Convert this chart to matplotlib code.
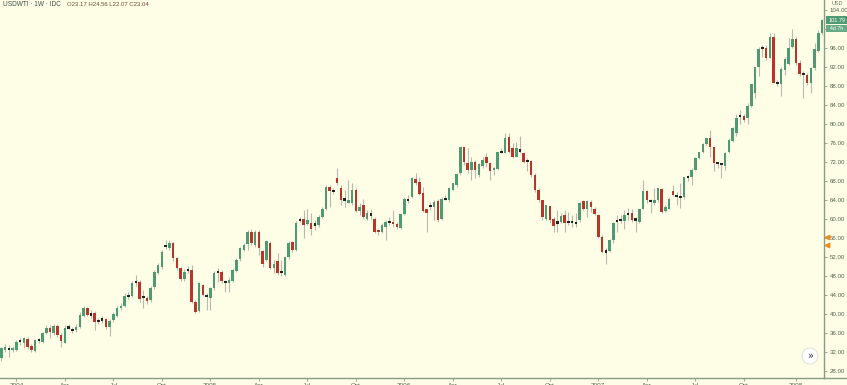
import numpy as np
import pandas as pd
import matplotlib
matplotlib.use("Agg")
import matplotlib.pyplot as plt
from matplotlib.lines import Line2D
from matplotlib.patches import Circle, Rectangle

# weekly USDWTI candles, Dec 2003 .. Feb 2008
start_date = "2003-12-08"

opens = [30.7, 32.4, 32.8, 32.4, 32.4, 34.2, 33.8, 34.7, 33.3, 32.3,
         34.5, 34.2, 36.1, 37.0, 35.9, 37.5, 35.6, 34.0, 37.1, 36.8,
         36.6, 37.3, 39.6, 41.2, 39.9, 40.3, 38.6, 38.8, 38.9, 37.3,
         38.7, 39.6, 41.2, 41.7, 43.8, 43.8, 46.6, 46.8, 43.6, 43.3,
         42.9, 45.6, 48.7, 49.8, 54.2, 53.8, 55.0, 51.7, 49.6, 47.3,
         49.2, 49.3, 42.6, 40.6, 46.1, 43.8, 43.3, 45.4, 48.7, 48.9,
         46.7, 46.5, 47.0, 49.1, 51.5, 53.5, 54.7, 57.3, 54.5, 57.3,
         53.3, 51.4, 55.0, 49.6, 51.2, 48.8, 48.2, 51.9, 55.1, 53.5,
         59.6, 59.9, 58.9, 59.2, 58.8, 58.7, 60.5, 62.2, 66.8, 65.9,
         68.6, 66.6, 64.0, 63.4, 63.3, 66.2, 61.7, 62.9, 60.0, 61.0,
         60.1, 57.7, 57.3, 58.4, 59.3, 59.4, 58.9, 58.2, 61.0, 64.1,
         64.7, 68.4, 67.7, 65.5, 62.2, 62.6, 62.5, 63.8, 59.9, 64.2,
         64.0, 66.2, 67.2, 69.6, 75.1, 71.7, 70.3, 72.1, 69.3, 71.2,
         73.0, 71.7, 70.3, 70.6, 74.0, 73.8, 77.3, 74.9, 73.1, 74.4,
         73.8, 72.2, 72.3, 69.3, 66.1, 64.0, 60.1, 62.7, 59.9, 59.3,
         59.4, 60.8, 59.5, 59.3, 59.3, 59.8, 63.8, 62.2, 63.6, 62.2,
         60.8, 56.3, 53.2, 53.3, 55.6, 59.4, 59.7, 59.6, 61.1, 61.2,
         59.9, 59.4, 62.2, 65.8, 63.9, 63.3, 64.0, 66.4, 61.7, 62.2,
         65.9, 64.8, 64.7, 64.6, 68.7, 68.8, 70.4, 72.8, 74.0, 75.8,
         77.0, 75.1, 71.8, 71.5, 71.2, 74.0, 76.5, 78.0, 81.5, 81.7,
         81.2, 83.8, 86.6, 91.9, 96.1, 95.9, 93.8, 98.4, 88.7, 88.4,
         91.4, 92.6, 96.3, 97.8, 92.9, 90.5, 90.3, 88.7, 91.7, 95.4,
         99.1]

highs = [33.0, 33.7, 33.5, 33.2, 34.6, 35.0, 35.1, 35.1, 33.6, 34.8,
         35.0, 36.3, 37.6, 37.7, 38.0, 37.9, 35.9, 37.6, 37.9, 37.3,
         37.8, 40.5, 41.6, 41.5, 40.8, 40.7, 39.2, 39.6, 39.1, 39.0,
         40.4, 41.6, 42.3, 44.5, 44.6, 47.0, 48.3, 47.1, 45.1, 43.8,
         45.9, 49.3, 50.8, 53.5, 55.6, 55.6, 55.2, 52.0, 49.9, 49.4,
         50.2, 50.3, 43.0, 46.8, 46.4, 44.4, 45.7, 49.0, 49.6, 49.3,
         47.2, 47.8, 49.6, 51.8, 54.2, 55.0, 57.7, 57.8, 57.7, 57.6,
         53.5, 55.6, 55.3, 51.4, 52.9, 51.4, 52.1, 55.3, 55.3, 59.5,
         60.5, 61.9, 62.2, 61.2, 59.8, 60.8, 62.5, 67.2, 67.2, 66.5,
         70.8, 67.1, 66.1, 68.3, 67.5, 66.5, 63.3, 64.3, 61.9, 62.2,
         60.5, 58.0, 59.1, 59.7, 60.5, 61.9, 59.4, 61.1, 64.7, 65.0,
         68.9, 69.6, 68.9, 66.8, 62.2, 63.6, 64.0, 64.3, 64.7, 65.0,
         66.8, 67.6, 69.6, 75.2, 75.2, 74.9, 73.1, 72.4, 71.7, 73.1,
         73.8, 72.1, 71.0, 74.2, 74.9, 78.0, 78.0, 75.9, 76.3, 77.5,
         74.2, 72.8, 72.4, 69.6, 66.5, 64.0, 62.9, 62.7, 60.5, 61.9,
         61.2, 61.9, 61.5, 60.8, 61.2, 63.6, 64.0, 64.1, 64.1, 62.6,
         61.0, 56.6, 53.8, 55.7, 59.4, 60.8, 60.8, 61.9, 62.4, 62.2,
         60.5, 62.2, 68.2, 66.1, 64.3, 66.5, 66.5, 66.5, 62.9, 64.7,
         67.1, 65.7, 67.5, 68.9, 69.3, 70.7, 73.0, 74.2, 75.9, 77.0,
         78.7, 75.2, 72.1, 71.7, 74.2, 77.0, 79.4, 82.2, 82.9, 82.2,
         84.4, 88.4, 91.9, 96.3, 96.6, 96.6, 99.1, 99.1, 89.3, 92.1,
         94.2, 98.0, 100.1, 98.4, 93.5, 91.2, 90.7, 92.1, 97.0, 99.8,
         102.2]

lows = [30.2, 32.0, 31.0, 32.1, 32.2, 33.4, 32.8, 32.7, 32.1, 32.0,
        34.0, 33.8, 35.8, 34.9, 35.6, 35.2, 33.1, 33.8, 36.8, 35.9,
        36.2, 37.0, 39.3, 39.5, 39.2, 36.6, 37.8, 38.2, 36.9, 35.4,
        38.4, 39.3, 40.9, 41.4, 43.1, 43.5, 46.0, 42.6, 41.2, 42.2,
        42.6, 45.3, 48.4, 49.5, 53.6, 53.4, 51.2, 49.2, 46.9, 46.9,
        48.6, 42.4, 40.3, 40.5, 43.8, 40.8, 40.8, 45.1, 46.8, 46.6,
        44.7, 44.7, 46.7, 48.8, 51.2, 53.2, 53.5, 54.5, 54.2, 52.4,
        49.9, 51.1, 49.4, 48.6, 48.2, 47.9, 48.0, 51.6, 53.0, 53.2,
        59.4, 55.9, 58.7, 56.6, 57.7, 58.4, 60.2, 61.9, 62.6, 65.3,
        67.2, 62.9, 62.6, 63.3, 62.9, 61.5, 60.8, 60.1, 59.8, 60.1,
        57.0, 56.6, 57.0, 55.6, 58.7, 58.4, 58.0, 58.0, 60.8, 63.3,
        64.4, 67.1, 65.0, 61.5, 57.3, 61.9, 59.8, 59.4, 59.8, 64.0,
        63.6, 66.0, 66.8, 69.3, 71.4, 69.6, 68.2, 68.6, 68.9, 70.7,
        71.0, 68.2, 69.3, 70.3, 73.8, 73.8, 73.8, 72.8, 73.0, 73.8,
        71.7, 70.0, 68.9, 65.7, 63.6, 59.8, 59.8, 59.1, 57.3, 57.3,
        59.1, 57.3, 58.7, 58.4, 58.4, 59.4, 61.9, 60.5, 61.5, 60.8,
        55.9, 52.8, 50.5, 53.1, 54.9, 57.3, 59.1, 58.0, 59.8, 59.4,
        57.3, 59.1, 62.2, 63.3, 61.3, 62.9, 63.6, 61.3, 61.5, 62.0,
        64.8, 62.9, 62.4, 64.3, 68.1, 67.1, 70.3, 72.6, 73.8, 75.6,
        73.1, 70.0, 70.7, 68.6, 70.3, 73.8, 76.3, 77.5, 80.1, 80.5,
        80.1, 83.6, 85.4, 90.0, 94.2, 93.5, 93.8, 88.6, 88.0, 85.9,
        90.3, 92.4, 96.1, 92.4, 90.0, 85.4, 88.2, 86.5, 91.4, 95.2,
        98.7]

closes = [32.8, 33.1, 32.6, 32.8, 34.2, 34.3, 34.9, 33.0, 32.4, 34.5,
          34.6, 35.9, 37.1, 36.3, 37.5, 35.6, 34.3, 37.1, 37.2, 36.6,
          37.3, 39.8, 41.3, 39.8, 39.9, 38.4, 38.5, 38.9, 37.3, 38.6,
          40.0, 41.2, 41.7, 43.8, 43.8, 46.5, 46.7, 43.2, 43.7, 42.7,
          45.5, 48.9, 50.3, 53.1, 54.5, 55.0, 51.7, 49.6, 47.3, 48.9,
          49.3, 42.6, 40.5, 46.5, 44.1, 43.6, 45.4, 48.6, 48.8, 47.0,
          46.6, 47.2, 49.3, 51.4, 53.8, 54.5, 57.3, 54.9, 57.3, 53.8,
          50.5, 55.4, 49.6, 50.5, 48.6, 48.7, 51.9, 54.9, 53.5, 59.1,
          59.8, 58.7, 59.8, 58.0, 58.9, 60.5, 62.2, 66.8, 65.9, 66.0,
          67.5, 64.0, 64.2, 64.1, 66.2, 61.7, 62.6, 60.5, 61.2, 60.9,
          57.3, 57.2, 58.7, 59.4, 59.3, 58.9, 58.4, 61.0, 64.2, 64.0,
          68.6, 67.5, 65.3, 61.7, 61.2, 62.8, 63.6, 59.8, 64.3, 64.2,
          66.6, 67.5, 69.4, 75.2, 71.9, 70.3, 72.1, 70.3, 71.5, 72.4,
          71.7, 70.0, 70.8, 74.0, 74.1, 77.1, 74.2, 73.1, 74.9, 74.4,
          72.1, 72.2, 69.3, 66.1, 64.0, 60.5, 62.9, 59.8, 58.5, 59.2,
          60.6, 59.1, 59.4, 59.3, 59.1, 63.3, 62.0, 63.8, 62.5, 61.0,
          56.3, 53.0, 53.1, 55.6, 59.1, 59.6, 59.8, 60.8, 61.0, 59.8,
          59.9, 62.2, 65.8, 64.0, 63.8, 64.1, 66.5, 61.5, 62.5, 64.3,
          65.0, 64.8, 64.7, 68.8, 68.8, 70.4, 72.8, 74.0, 75.7, 77.0,
          75.2, 71.7, 71.7, 71.5, 73.8, 76.6, 79.1, 81.2, 81.7, 80.8,
          83.8, 88.4, 91.9, 95.7, 96.0, 93.8, 98.4, 88.6, 88.7, 91.5,
          93.6, 96.1, 97.8, 92.8, 90.5, 90.4, 88.7, 91.7, 95.7, 99.1,
          101.79]

price_ticks = list(range(28, 105, 4))
header_name = "USDWTI · 1W · IDC"
header_ohlc = "O23.17 H24.56 L22.07 C23.04"
countdown = "4d 7h"

bg = "#fefee6"
up_col = "#4f9a72"
down_col = "#b7352a"
wick_col = "#b9b9b1"
axis_col = "#8c9c82"
text_col = "#55654f"
small_font = "Liberation Sans"

o = np.array(opens)
h = np.array(highs)
l = np.array(lows)
c = np.array(closes)
idx = np.arange(len(c))
dates = pd.date_range(start_date, periods=len(c), freq="W-MON")

W, H = 847, 385
fig = plt.figure(figsize=(W / 100, H / 100), dpi=100)
fig.patch.set_facecolor(bg)
ax = fig.add_axes([0, 7 / H, 824 / W, 378 / H])
ax.set_facecolor(bg)

# wicks
ax.vlines(idx, l, h, color=wick_col, linewidth=0.8, zorder=1)

# bodies
body_lo = np.minimum(o, c)
body_h = np.abs(c - o)
small = body_h < 0.35
colors = np.where(c >= o, up_col, down_col)
ax.bar(idx[~small], body_h[~small], bottom=body_lo[~small], width=0.68,
       color=colors[~small], linewidth=0, zorder=2)
ax.bar(idx[small], 0.45, bottom=(o[small] + c[small]) / 2 - 0.22, width=0.68,
       color="#222222", linewidth=0, zorder=2)

ax.set_xlim(-0.4, 220.5)
ax.set_ylim(26.53, 106.1)

# axes styling
for s in ["top", "left"]:
    ax.spines[s].set_visible(False)
for s in ["right", "bottom"]:
    ax.spines[s].set_color(axis_col)
    ax.spines[s].set_linewidth(1.0)

# price labels hidden under the last-price tag
ax.yaxis.tick_right()
ax.set_yticks(price_ticks)
ax.set_yticklabels(["" if abs(v - c[-1]) < 2 else f"{v:.2f}" for v in price_ticks],
                   family=small_font)
ax.tick_params(axis="y", length=2.5, width=0.6, color=axis_col, labelsize=4.4,
               labelcolor=text_col, pad=1.5)

# quarter ticks at first bar of Jan/Apr/Jul/Oct
qpos, qlab = [], []
for i in range(1, len(dates)):
    m = dates[i].month
    if m in (1, 4, 7, 10) and dates[i - 1].month != m:
        qpos.append(i)
        qlab.append(str(dates[i].year) if m == 1 else dates[i].strftime("%b"))
ax.set_xticks(qpos)
ax.set_xticklabels(qlab, family=small_font)
ax.tick_params(axis="x", length=2, width=0.6, color=axis_col, labelsize=4.6,
               labelcolor=text_col, pad=1.8)

# bottom line continuing under price scale
fig.add_artist(Line2D([824 / W, 1], [7 / H, 7 / H], color=axis_col, linewidth=1.0))

# header
fig.text(3 / W, 1 - 5 / H, header_name, fontsize=4.7, color="#3f4f45",
         va="center", family=small_font)
fig.text(67 / W, 1 - 5 / H, header_ohlc, fontsize=4.3, color="#6e4a35",
         va="center", family=small_font)

# overlay in pixel coords for price-scale labels and small ui bits
ov = fig.add_axes([0, 0, 1, 1], facecolor="none")
ov.set_xlim(0, W)
ov.set_ylim(H, 0)
ov.axis("off")

ov.text(837, 3.5, "USD", fontsize=4.0, color="#6a7a66", va="center", ha="center",
        family=small_font)

last_y = H - ax.transData.transform((idx[-1], c[-1]))[1]
ov.add_patch(Rectangle((826, last_y - 4.0), 21, 7.6, fc=up_col, ec="none"))
ov.text(837, last_y - 0.2, f"{c[-1]:.2f}", fontsize=4.0, color="white",
        va="center", ha="center", family=small_font)
ov.add_patch(Rectangle((826, last_y + 4.6), 21, 7.0, fc="#69aa86", ec="none"))
ov.text(837, last_y + 8.2, countdown, fontsize=3.8, color="white",
        va="center", ha="center", family=small_font)

ov.plot([826.5, 826.5], [237, 245], linestyle="none", marker="<", markersize=3.2,
        color="#f08a1c")
ov.add_patch(Circle((810, 356), 8, fc="white", ec="#e4e4dc", lw=0.8))
ov.text(810, 356, "»", fontsize=7, color="#333344", ha="center", va="center")

fig.savefig("out.png", dpi=100, facecolor=bg)
